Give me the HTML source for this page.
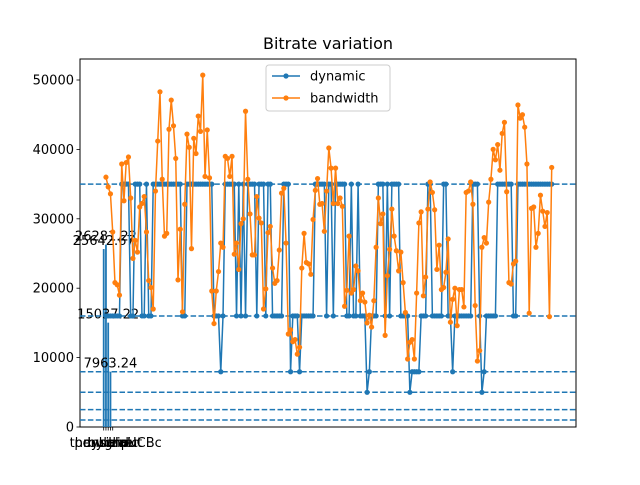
<!DOCTYPE html>
<html><head><meta charset="utf-8"><style>
html,body{margin:0;padding:0;background:#fff;}
svg text{font-family:"DejaVu Sans","Liberation Sans",sans-serif;}
</style></head><body>
<svg id="chart" width="640" height="480" viewBox="0 0 640 480" xmlns="http://www.w3.org/2000/svg">
<rect x="0" y="0" width="640" height="480" fill="#fff"/>
<text x="328" y="49" font-size="16" text-anchor="middle" fill="#000">Bitrate variation</text>
<g id="plot"></g>
</svg>
<script>
const categories = ["pensieve","throughput","hybrid","dynamic","bola","LinUCBc"];
const barValues = [25642.67, 26281.22, 15037.22, 7963.24];
const barLabels = ["25642.67","26281.22","15037.22","7963.24"];
const refLines = [35000, 16000, 7963.24, 5000, 2500, 1000];
const yTicks = [0,10000,20000,30000,40000,50000];
const bandwidth = [36000,34600,33600,28100,20800,20500,19000,37900,32600,38100,38900,33000,24300,26900,25200,31700,32200,33200,28100,21100,20100,17000,34000,41200,48300,35700,27500,27900,42900,47100,43400,38700,21200,28500,16600,32100,42200,40300,25700,41600,39400,44800,42600,50700,36100,42800,35900,19600,14900,19600,22400,26500,25900,39000,38700,36100,39000,24900,26500,22700,29300,30000,45500,35700,30700,24800,24800,33200,30100,29400,17000,19900,28000,28900,22900,20700,21100,25500,33700,34400,26500,13400,14000,12300,12600,10500,11500,22900,27900,23700,23500,22000,29900,34100,35800,32100,32200,28200,34000,40200,37300,32200,37300,32200,33000,31800,17400,19700,27500,19300,19800,23200,22500,18200,19300,18000,15000,16100,14400,18200,25900,33000,29300,30700,13200,21800,25600,31400,27500,25400,22500,25200,20800,16500,9800,12200,12600,9800,19300,29400,31000,18900,21600,31400,35300,33800,31300,22700,26200,19800,20100,22300,27100,15100,18400,20000,14600,19800,19800,17300,33800,34000,35300,32100,17500,9500,11000,25900,27300,26500,32400,35700,40000,38500,40700,37000,42300,43900,33900,20800,20600,23500,23900,46400,44500,45000,43200,37900,16400,31500,31700,25900,27900,33400,31100,28900,30900,15900,37400];
const dynamic = [16000,16000,16000,16000,16000,16000,16000,
35000,35000,35000,35000,
16000,16000,
35000,35000,35000,
16000,16000,35000,16000,16000,
35000,35000,35000,35000,35000,35000,35000,35000,35000,35000,35000,35000,35000,
16000,16000,
35000,35000,35000,35000,35000,35000,35000,35000,35000,35000,35000,35000,
16000,16000,16000,7963.24,16000,
35000,35000,35000,35000,35000,
16000,35000,16000,35000,16000,35000,
35000,35000,35000,16000,35000,35000,35000,16000,35000,
35000,16000,16000,16000,16000,16000,
35000,35000,35000,
7963.24,16000,16000,16000,7963.24,16000,16000,16000,16000,16000,16000,
35000,35000,35000,35000,35000,
16000,35000,35000,16000,
35000,35000,35000,35000,35000,
16000,16000,35000,16000,16000,35000,16000,16000,16000,5000,7963.24,16000,16000,16000,
35000,35000,35000,
16000,35000,16000,35000,
35000,35000,35000,
16000,16000,16000,16000,
5000,7963.24,7963.24,7963.24,7963.24,16000,16000,16000,
35000,35000,
16000,16000,16000,16000,16000,
35000,35000,
16000,16000,7963.24,16000,16000,16000,16000,16000,16000,16000,16000,
35000,35000,35000,
16000,5000,7963.24,16000,16000,16000,16000,16000,
35000,35000,35000,35000,35000,35000,35000,
16000,16000,
35000,35000,35000,35000,35000,35000,35000,35000,35000,35000,35000,35000,35000,35000,35000,35000];

const NS="http://www.w3.org/2000/svg";
const plot=document.getElementById('plot');
const L=80,R=576,T=59,B=427;
const yMax=53026;
const xStart=103.7, xStep=2.2513;
function xs(i){return xStart+i*xStep;}
function ys(v){return B-(v/yMax)*(B-T);}
function mk(tag,attrs,parent){const e=document.createElementNS(NS,tag);for(const k in attrs)e.setAttribute(k,attrs[k]);(parent||plot).appendChild(e);return e;}

// axes frame
const frame=mk('rect',{x:L,y:T,width:R-L,height:B-T,fill:'none',stroke:'#000','stroke-width':1});



// y ticks
yTicks.forEach(v=>{
  const y=ys(v);
  const t=mk('line',{x1:L-3.5,x2:L,y1:y,y2:y,stroke:'#000','stroke-width':0.8});
  
  
  const tx=mk('text',{x:L-6,y:y+4.5,'font-size':13,'text-anchor':'end',fill:'#000'});
  tx.textContent=String(v);
  
  
});

// x ticks (categorical)
categories.slice(0,5).forEach((c,i)=>{
  const x=xs(i);
  const t=mk('line',{x1:x,x2:x,y1:B,y2:B+3.5,stroke:'#000','stroke-width':0.8});
  
  
});
categories.forEach((c,i)=>{
  const tx=mk('text',{x:xs(i)+ (i===5?20:0),y:B+20,'font-size':13,'text-anchor':'middle',fill:'#000'});
  tx.textContent=c;
  
  
});

// bars
barValues.forEach((v,i)=>{
  const b=mk('rect',{x:xs(i)-0.9,y:ys(v),width:1.8,height:B-ys(v),fill:'#1f77b4'});
  
  
  const tx=mk('text',{x:xs(i),y:ys(v)-4,'font-size':13,'text-anchor':'middle',fill:'#000'});
  tx.textContent=barLabels[i];
  
  
});

// reference lines
refLines.forEach(v=>{
  const l=mk('line',{x1:L,x2:R,y1:ys(v),y2:ys(v),stroke:'#1f77b4','stroke-width':1.5,'stroke-dasharray':'5.5,2.4'});
  
  
});

function series(vals,color,name){
  const pts=vals.map((v,k)=>xs(k+1).toFixed(2)+','+ys(v).toFixed(2)).join(' ');
  const pl=mk('polyline',{points:pts,fill:'none',stroke:color,'stroke-width':1.5,'stroke-linejoin':'round'});
  
  
  vals.forEach((v,k)=>{
    const c=mk('circle',{cx:xs(k+1),cy:ys(v),r:2.6,fill:color});
    
    
  });
}
series(dynamic,'#1f77b4','dynamic');
series(bandwidth,'#ff7f0e','bandwidth');

// legend
const lg=mk('g',{});


mk('rect',{x:266,y:65,width:124,height:46,rx:3,fill:'#fff','fill-opacity':0.8,stroke:'#ccc','stroke-width':1},lg);
[['dynamic','#1f77b4',76],['bandwidth','#ff7f0e',98]].forEach(([n,c,y])=>{
  const e=mk('g',{},lg);
  
  
  mk('line',{x1:272,x2:300,y1:y,y2:y,stroke:c,'stroke-width':1.5},e);
  mk('circle',{cx:286,cy:y,r:2.6,fill:c},e);
  const t=mk('text',{x:310,y:y+4.5,'font-size':13,fill:'#000'},e);
  t.textContent=n;
});
</script>
</body></html>
